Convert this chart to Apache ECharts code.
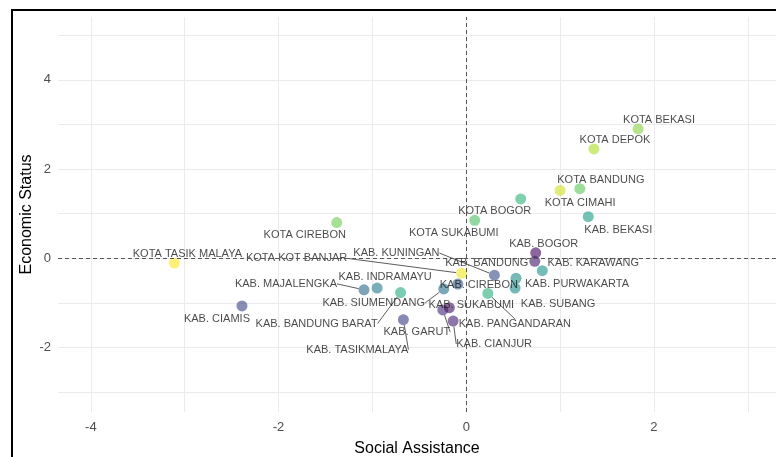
<!DOCTYPE html>
<html>
<head>
<meta charset="utf-8">
<script src="https://cdn.jsdelivr.net/npm/echarts@6/dist/echarts.min.js"></script>
<style>
  html, body { margin: 0; padding: 0; background: #fff; }
  #chart { width: 776px; height: 457px; }
</style>
</head>
<body>
<div id="chart"></div>
<script>
// regions of West Java
var regions = [
  'KOTA BEKASI', 'KOTA DEPOK', 'KOTA BANDUNG', 'KOTA CIMAHI', 'KOTA BOGOR',
  'KOTA SUKABUMI', 'KAB. BEKASI', 'KOTA CIREBON', 'KOTA TASIK MALAYA', 'KAB. CIAMIS',
  'KAB. MAJALENGKA', 'KAB. INDRAMAYU', 'KAB. BANDUNG BARAT', 'KAB. TASIKMALAYA', 'KAB. SIUMENDANG',
  'KAB. CIREBON', 'KOTA KOT BANJAR', 'KAB. GARUT', 'KAB. SUKABUMI', 'KAB. CIANJUR',
  'KAB. KUNINGAN', 'KAB. PANGANDARAN', 'KAB. BOGOR', 'KAB. BANDUNG', 'KAB. KARAWANG',
  'KAB. PURWAKARTA', 'KAB. SUBANG'
];
var socialAssistance = [
  1.83, 1.36, 1.21, 1.00, 0.58,
  0.09, 1.30, -1.38, -3.11, -2.39,
  -1.09, -0.95, -0.70, -0.67, -0.24,
  -0.09, -0.05, -0.25, -0.18, -0.14,
  0.30, 0.23, 0.74, 0.73, 0.81,
  0.53, 0.52
];
var economicStatus = [
  2.90, 2.45, 1.56, 1.52, 1.33,
  0.85, 0.93, 0.80, -0.11, -1.07,
  -0.71, -0.67, -0.77, -1.38, -0.69,
  -0.58, -0.34, -1.16, -1.11, -1.41,
  -0.38, -0.79, 0.12, -0.07, -0.28,
  -0.45, -0.67
];
// colour variable (viridis scale, 0..1)
var colourScore = [
  0.82, 0.88, 0.75, 0.93, 0.65,
  0.72, 0.55, 0.78, 1.00, 0.22,
  0.35, 0.42, 0.62, 0.20, 0.38,
  0.30, 0.98, 0.12, 0.06, 0.10,
  0.25, 0.63, 0.03, 0.08, 0.52,
  0.50, 0.48
];

// label placement (pixels from point) and which labels get a leader line
var labelOffsets = [
  [21, -9], [21, -9], [21, -9], [20, 13], [-26, 12],
  [-21, 13], [30, 13], [-32, 12], [13, -9], [-25, 13],
  [-78, -6], [8, -11], [-84, 31], [-46, 30], [-70, 14],
  [21, 1], [-165, -15], [-26, 22], [22, -3], [41, 23],
  [-98, -22], [27, 31], [8, -9], [-48, 2], [51, -8],
  [61, 6], [43, 16]
];
var leaderLines = [
  'KAB. MAJALENGKA', 'KAB. BANDUNG BARAT', 'KAB. TASIKMALAYA', 'KAB. SIUMENDANG',
  'KOTA KOT BANJAR', 'KAB. GARUT', 'KAB. CIANJUR', 'KAB. KUNINGAN', 'KAB. PANGANDARAN'
];

var viridis = ['#440154', '#482878', '#3e4989', '#31688e', '#26828e',
               '#1f9e89', '#35b779', '#6ece58', '#b5de2b', '#fde725'];
var font = 'Liberation Sans, Arial, sans-serif';

var points = regions.map(function (name, i) {
  return {
    name: name,
    value: [socialAssistance[i], economicStatus[i], colourScore[i]],
    labelLine: { show: leaderLines.indexOf(name) >= 0 }
  };
});

function evenOnly(v) {
  var r = Math.round(v);
  return (Math.abs(v - r) < 1e-6 && r % 2 === 0) ? String(r) : '';
}

var option = {
  animation: false,
  backgroundColor: '#fff',
  grid: { left: 58, right: 0, top: 17, bottom: 45, outerBoundsMode: 'none', containLabel: false },
  xAxis: {
    type: 'value',
    min: -4.35, max: 3.3,
    splitNumber: 8,
    name: 'Social Assistance',
    nameLocation: 'middle',
    nameGap: 29,
    nameMoveOverlap: false,
    nameTextStyle: { fontSize: 16, color: '#000', fontFamily: font },
    axisLine: { show: false },
    axisTick: { show: false },
    axisLabel: { color: '#4d4d4d', fontSize: 13, fontFamily: font, margin: 9,
                 formatter: evenOnly },
    splitLine: { show: true, showMinLine: false, showMaxLine: false,
                 lineStyle: { color: '#ebebeb', width: 1 } }
  },
  yAxis: {
    type: 'value',
    min: -3.45, max: 5.41,
    splitNumber: 9,
    name: 'Economic Status',
    nameLocation: 'middle',
    nameGap: 23,
    nameMoveOverlap: false,
    nameTextStyle: { fontSize: 16, color: '#000', fontFamily: font },
    axisLine: { show: false },
    axisTick: { show: false },
    axisLabel: { color: '#4d4d4d', fontSize: 13, fontFamily: font, margin: 7,
                 formatter: evenOnly },
    splitLine: { show: true, showMinLine: false, showMaxLine: false,
                 lineStyle: { color: '#ebebeb', width: 1 } }
  },
  visualMap: {
    show: false,
    type: 'continuous',
    dimension: 2,
    min: 0, max: 1,
    inRange: { color: viridis, colorAlpha: 0.78 }
  },
  graphic: [{
    type: 'rect',
    shape: { x: 12, y: 10, width: 900, height: 600 },
    style: { fill: 'none', stroke: '#000', lineWidth: 2 },
    silent: true, z: 100
  }],
  series: [{
    type: 'scatter',
    symbolSize: 11,
    data: points,
    label: {
      show: true,
      position: 'inside',
      formatter: '{b}',
      color: '#1a1a1a',
      fontSize: 11,
      fontFamily: font
    },
    labelLine: { lineStyle: { color: '#333', width: 0.8 } },
    labelLayout: function (params) {
      var off = labelOffsets[params.dataIndex];
      return { dx: off[0], dy: off[1], hideOverlap: false };
    },
    markLine: {
      silent: true,
      symbol: 'none',
      label: { show: false },
      lineStyle: { color: '#555', type: [4, 3], width: 1 },
      data: [{ xAxis: 0 }, { yAxis: 0 }]
    }
  }]
};

var myChart = echarts.init(document.getElementById('chart'));
myChart.setOption(option);
</script>
</body>
</html>
